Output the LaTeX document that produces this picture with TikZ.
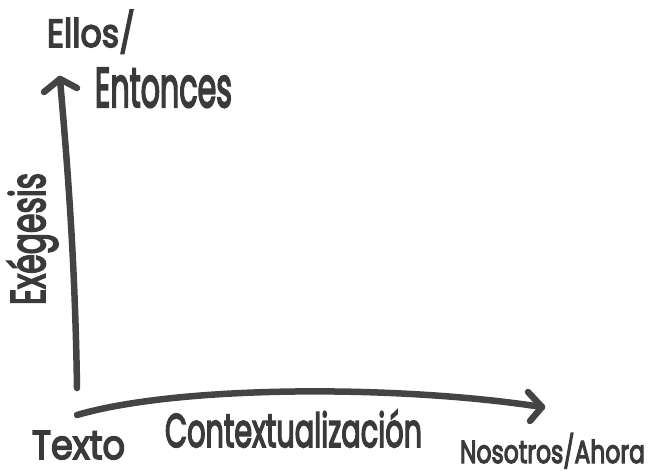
\documentclass[tikz,border=0pt]{standalone}
\usepackage{fontspec}
\setmainfont{Poppins}
\newfontfamily\handfont{Poppins}[FakeBold=4]
\usepackage{graphicx}
\definecolor{ink}{HTML}{3A3A3A}
\definecolor{stroke}{HTML}{444444}
\tikzset{
  axisline/.style={draw=stroke, line width=6.5pt, line cap=round, line join=round},
  lbl/.style={text=ink, inner sep=0pt, outer sep=0pt, anchor=base west, font=\handfont},
}
\newcommand{\hw}[3]{\resizebox{#1pt}{#2pt}{#3}}
\begin{document}
\begin{tikzpicture}[x=1pt,y=-1pt]
\useasboundingbox (0,0) rectangle (649,471);
% axes
\coordinate (vb) at (77,388);
\coordinate (vt) at (60,79);
\coordinate (vl) at (44,92);
\coordinate (vr) at (77,88);
\coordinate (hb) at (77,415);
\coordinate (ht) at (542,407);
\coordinate (hu) at (528,392);
\coordinate (hd) at (530,421);
\draw[axisline] (vb) .. controls (75,250) and (66,150) .. (vt);
\draw[axisline] (vl) -- (vt) -- (vr);
\draw[axisline] (hb) .. controls (180,385) and (400,385) .. (ht);
\draw[axisline] (hu) -- (ht) -- (hd);
% labels
\node[lbl] (ellos) at (47,47) {\hw{88}{37}{Ellos/}};
\node[lbl] (entonces) at (95,107) {\hw{137}{39}{Entonces}};
\node[lbl, rotate=90] (exegesis) at (45,305) {\hw{132}{38}{Exégesis}};
\node[lbl] (texto) at (32,459) {\hw{93}{28}{Texto}};
\node[lbl] (context) at (165,447) {\hw{257}{37}{Contextualización}};
\node[lbl] (nosotros) at (460,463) {\hw{185}{30}{Nosotros/Ahora}};
\end{tikzpicture}
\end{document}
